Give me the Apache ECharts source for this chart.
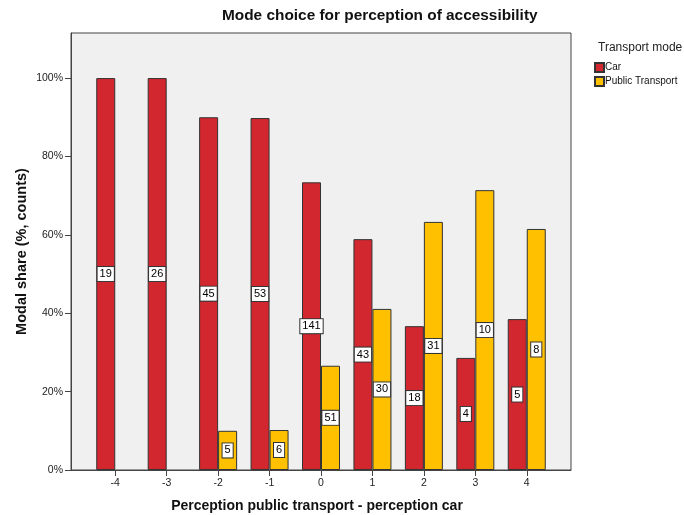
<!DOCTYPE html>
<html>
<head>
<meta charset="utf-8">
<script src="https://cdn.jsdelivr.net/npm/echarts@6/dist/echarts.min.js"></script>
<style>
  html, body { margin: 0; padding: 0; background: #ffffff; }
  #chart { width: 684px; height: 515px; }
</style>
</head>
<body>
<div id="chart"></div>
<script>
// Perception difference (public transport minus car) on the x axis
const perception = [-4, -3, -2, -1, 0, 1, 2, 3, 4];
// Modal share in percent per perception group
const carShare = [100, 100, 90, 89.8, 73.4, 58.9, 36.7, 28.6, 38.5];
const ptShare = [null, null, 10, 10.2, 26.6, 41.1, 63.3, 71.4, 61.5];
// Respondent counts shown on the bars
const carCount = [19, 26, 45, 53, 141, 43, 18, 4, 5];
const ptCount = [null, null, 5, 6, 51, 30, 31, 10, 8];
// Y axis tick values (percent)
const yTicks = [0, 20, 40, 60, 80, 100];

const FONT = 'Liberation Sans, Arial, sans-serif';

function countLabel(counts) {
  return {
    show: true,
    position: 'inside',
    formatter: p => counts[p.dataIndex] == null ? '' : String(counts[p.dataIndex]),
    color: '#000',
    fontFamily: FONT,
    fontSize: 11,
    backgroundColor: '#ffffff',
    borderColor: '#333333',
    borderWidth: 1,
    padding: [2, 2, 1, 2]
  };
}

const chart = echarts.init(document.getElementById('chart'), null, { renderer: 'canvas' });

chart.setOption({
  animation: false,
  backgroundColor: '#ffffff',
  title: [
    {
      text: 'Mode choice for perception of accessibility',
      left: 222,
      top: 8,
      padding: 0,
      textStyle: { fontFamily: FONT, fontSize: 15.4, fontWeight: 'bold', color: '#111' }
    },
    {
      text: 'Transport mode',
      left: 598,
      top: 42,
      padding: 0,
      textStyle: { fontFamily: FONT, fontSize: 12, fontWeight: 'normal', color: '#222' }
    }
  ],
  legend: {
    orient: 'vertical',
    left: 594,
    top: 62,
    padding: 0,
    itemWidth: 9,
    itemHeight: 9,
    itemGap: 3,
    icon: 'rect',
    data: ['Car', 'Public Transport'],
    textStyle: { fontFamily: FONT, fontSize: 10, color: '#111', padding: [0, 0, 0, -4] }
  },
  grid: {
    left: 71,
    right: 113,
    top: 33,
    bottom: 45,
    outerBoundsMode: 'none',
    show: true,
    backgroundColor: '#f0f0f0',
    borderColor: '#444444',
    borderWidth: 1
  },
  xAxis: {
    type: 'value',
    min: -4.86,
    max: 4.86,
    name: 'Perception public transport - perception car',
    nameLocation: 'middle',
    nameGap: 29,
    nameMoveOverlap: false,
    nameTextStyle: { fontFamily: FONT, fontSize: 14, fontWeight: 'bold', color: '#111', padding: [0, 8, 0, 0] },
    axisLine: { show: true, onZero: false, lineStyle: { color: '#444', width: 1 } },
    axisTick: { show: true, customValues: perception, length: 6, lineStyle: { color: '#444' } },
    axisLabel: {
      customValues: perception,
      formatter: v => String(v),
      margin: 8,
      fontFamily: FONT,
      fontSize: 10.5,
      color: '#222'
    },
    splitLine: { show: false }
  },
  yAxis: {
    type: 'value',
    min: 0,
    max: 111.5,
    name: 'Modal share (%, counts)',
    nameLocation: 'middle',
    nameGap: 42,
    nameMoveOverlap: false,
    nameTextStyle: { fontFamily: FONT, fontSize: 14.5, fontWeight: 'bold', color: '#111' },
    axisLine: { show: true, onZero: false, lineStyle: { color: '#444', width: 1 } },
    axisTick: { show: true, customValues: yTicks, length: 6, lineStyle: { color: '#444' } },
    axisLabel: {
      customValues: yTicks,
      formatter: v => v + '%',
      margin: 8,
      fontFamily: FONT,
      fontSize: 10.5,
      color: '#222'
    },
    splitLine: { show: false }
  },
  series: [
    {
      name: 'Car',
      type: 'bar',
      barWidth: 19,
      barGap: '0%',
      data: perception.map((x, i) => [x, carShare[i]]),
      itemStyle: { color: '#d3272f', borderColor: '#333333', borderWidth: 1 },
      label: countLabel(carCount)
    },
    {
      name: 'Public Transport',
      type: 'bar',
      barWidth: 19,
      barGap: '0%',
      data: perception.map((x, i) => [x, ptShare[i]]),
      itemStyle: { color: '#ffc000', borderColor: '#333333', borderWidth: 1 },
      label: countLabel(ptCount)
    }
  ]
});
</script>
</body>
</html>
